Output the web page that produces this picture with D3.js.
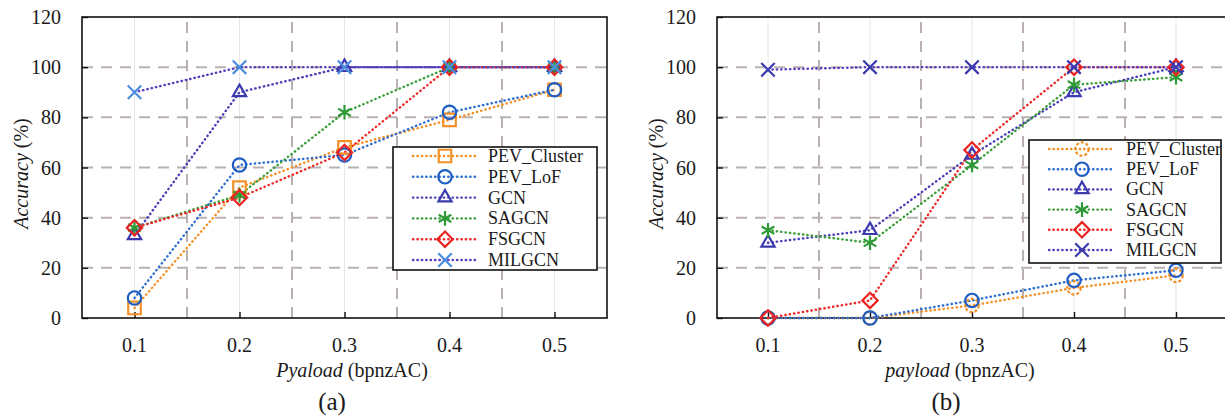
<!DOCTYPE html>
<html>
<head>
<meta charset="utf-8">
<script src="https://cdn.jsdelivr.net/npm/d3@7"></script>
<style>
  body { margin: 0; background: #fff; }
  text { font-family: "Liberation Serif", "Times New Roman", serif; fill: #1a1a1a; }
</style>
</head>
<body>
<svg id="svg1" width="1225" height="420"></svg>
<script>

// chart values
const payload = [0.1, 0.2, 0.3, 0.4, 0.5];
const yTicks = [0, 20, 40, 60, 80, 100, 120];
const gridX = [0.15, 0.25, 0.35, 0.45];
const names = ["PEV_Cluster", "PEV_LoF", "GCN", "SAGCN", "FSGCN", "MILGCN"];

// (a)
const aPevCluster = [4, 52, 68, 79, 91];
const aPevLof = [8, 61, 65, 82, 91];
const aGcn = [33, 90, 100, 100, 100];
const aSagcn = [36, 49, 82, 100, 100];
const aFsgcn = [36, 48, 66, 100, 100];
const aMilgcn = [90, 100, 100, 100, 100];

// (b)
const bPevCluster = [0, 0, 5, 12, 17];
const bPevLof = [0, 0, 7, 15, 19];
const bGcn = [30, 35, 65, 90, 100];
const bSagcn = [35, 30, 61, 93, 96];
const bFsgcn = [0, 7, 67, 100, 100];
const bMilgcn = [99, 100, 100, 100, 100];

let svg = d3.select("#svg1");

// styles for each series (line colour, marker, marker colour)
function seriesStyle(panel) {
  return [
    {line: "#f39128", sym: panel == "a" ? "square" : "circle", mc: "#f39128", dash: panel == "b"},
    {line: "#2f6fd0", sym: "circle", mc: "#1f5cc2"},
    {line: "#4a3fb6", sym: "triangle", mc: "#3a3aae"},
    {line: "#3a9e3a", sym: "asterisk", mc: "#2e9a35"},
    {line: "#ee2a2a", sym: "diamond", mc: "#ea2222"},
    {line: "#5b3dbd", sym: "times", mc: panel == "a" ? "#4a8ee0" : "#3a3aae"}
  ];
}

const symTypes = {
  square: [d3.symbolSquare2, 200],
  circle: [d3.symbolCircle, 140],
  triangle: [d3.symbolTriangle2, 125],
  asterisk: [d3.symbolAsterisk, 150],
  diamond: [d3.symbolDiamond2, 150],
  times: [d3.symbolTimes, 120]
};

function marker(g, st, x, y) {
  let t = symTypes[st.sym];
  g.append("path")
    .attr("d", d3.symbol().type(t[0]).size(t[1])())
    .attr("transform", `translate(${x},${y})`)
    .attr("fill", "none")
    .attr("stroke", st.mc)
    .attr("stroke-width", 2.2)
    .attr("stroke-dasharray", st.dash ? "3,2" : null);
}

function drawPanel(p) {
  let x = d3.scaleLinear().domain([0.05, 0.55]).range([p.left, p.right]);
  let y = d3.scaleLinear().domain([0, 120]).range([318, 17]);
  let g = svg.append("g");

  // light solid gridlines at each payload
  g.selectAll(".vg").data(payload).enter().append("line")
    .attr("x1", d => x(d)).attr("x2", d => x(d))
    .attr("y1", y(0)).attr("y2", y(120))
    .attr("stroke", "#e6e6e6").attr("stroke-width", 1);

  // dashed gridlines
  g.selectAll(".vd").data(gridX).enter().append("line")
    .attr("x1", d => x(d)).attr("x2", d => x(d))
    .attr("y1", y(0)).attr("y2", y(120))
    .attr("stroke", "#b9b1b1").attr("stroke-width", 2)
    .attr("stroke-dasharray", "11,8");
  g.selectAll(".hd").data(yTicks.slice(1, 6)).enter().append("line")
    .attr("x1", p.left).attr("x2", p.right)
    .attr("y1", d => y(d)).attr("y2", d => y(d))
    .attr("stroke", "#b9b1b1").attr("stroke-width", 2)
    .attr("stroke-dasharray", "11,8");

  // frame
  g.append("rect")
    .attr("x", p.left).attr("y", y(120))
    .attr("width", p.right - p.left).attr("height", y(0) - y(120))
    .attr("fill", "none").attr("stroke", "#111").attr("stroke-width", 1.6);

  // axes with inward ticks
  let yAx = g.append("g")
    .attr("transform", `translate(${p.left},0)`)
    .call(d3.axisRight(y).tickValues(yTicks).tickSize(6).tickFormat(""));
  yAx.select(".domain").remove();
  yAx.selectAll("line").attr("stroke", "#111").attr("stroke-width", 1.4);

  let xAx = g.append("g")
    .attr("transform", `translate(0,${y(0)})`)
    .call(d3.axisTop(x).tickValues(payload).tickSize(6).tickFormat(""));
  xAx.select(".domain").remove();
  xAx.selectAll("line").attr("stroke", "#111").attr("stroke-width", 1.4);

  // tick labels
  g.selectAll(".yl").data(yTicks).enter().append("text")
    .attr("x", p.left - 21).attr("y", d => y(d) + 7)
    .attr("text-anchor", "end").style("font-size", "20px")
    .text(d => d);
  g.selectAll(".xl").data(payload).enter().append("text")
    .attr("x", d => x(d)).attr("y", 352)
    .attr("text-anchor", "middle").style("font-size", "20px")
    .text(d => d.toFixed(1));

  // axis titles
  let yt = g.append("text")
    .attr("transform", `translate(${p.left - 54},${(y(0) + y(120)) / 2 + 6}) rotate(-90)`)
    .attr("text-anchor", "middle").style("font-size", "20px");
  yt.append("tspan").style("font-style", "italic").text("Accuracy");
  yt.append("tspan").text(" (%)");

  let xt = g.append("text")
    .attr("x", p.titleX).attr("y", 377)
    .attr("text-anchor", "middle").style("font-size", "20px");
  xt.append("tspan").style("font-style", "italic").text(p.xWord);
  xt.append("tspan").text(" (bpnzAC)");

  g.append("text")
    .attr("x", p.labelX).attr("y", 410)
    .attr("text-anchor", "middle").style("font-size", "25px")
    .text(p.label);

  // series lines and markers
  let styles = seriesStyle(p.label == "(a)" ? "a" : "b");
  let line = d3.line().x((d, i) => x(payload[i])).y(d => y(d));
  p.data.forEach((vals, k) => {
    g.append("path")
      .attr("d", line(vals))
      .attr("fill", "none")
      .attr("stroke", styles[k].line)
      .attr("stroke-width", 2.4)
      .attr("stroke-linecap", "round")
      .attr("stroke-dasharray", "0.4,4");
  });
  p.data.forEach((vals, k) => {
    vals.forEach((v, i) => marker(g, styles[k], x(payload[i]), y(v)));
  });

  // legend
  let L = p.legend;
  g.append("rect")
    .attr("x", L.x).attr("y", L.y).attr("width", L.w).attr("height", L.h)
    .attr("fill", "#fff").attr("stroke", "#111").attr("stroke-width", 1.6);
  names.forEach((n, k) => {
    let ry = L.y + 9 + k * L.step;
    g.append("line")
      .attr("x1", L.x + 20).attr("x2", L.x + 20 + L.lineW)
      .attr("y1", ry).attr("y2", ry)
      .attr("stroke", styles[k].line).attr("stroke-width", 2.4)
      .attr("stroke-linecap", "round").attr("stroke-dasharray", "0.4,4");
    marker(g, styles[k], L.x + 20 + L.lineW / 2, ry);
    g.append("text")
      .attr("x", L.x + L.lineW + 31).attr("y", ry + 6)
      .style("font-size", "18px")
      .text(n);
  });
}

drawPanel({
  left: 82, right: 607, label: "(a)", labelX: 332, titleX: 352, xWord: "Pyaload",
  data: [aPevCluster, aPevLof, aGcn, aSagcn, aFsgcn, aMilgcn],
  legend: {x: 393, y: 147, w: 204, h: 123, step: 20.8, lineW: 64}
});

drawPanel({
  left: 717, right: 1227, label: "(b)", labelX: 946, titleX: 960, xWord: "payload",
  data: [bPevCluster, bPevLof, bGcn, bSagcn, bFsgcn, bMilgcn],
  legend: {x: 1029, y: 140, w: 192, h: 123, step: 20.2, lineW: 66}
});

</script>
</body>
</html>
